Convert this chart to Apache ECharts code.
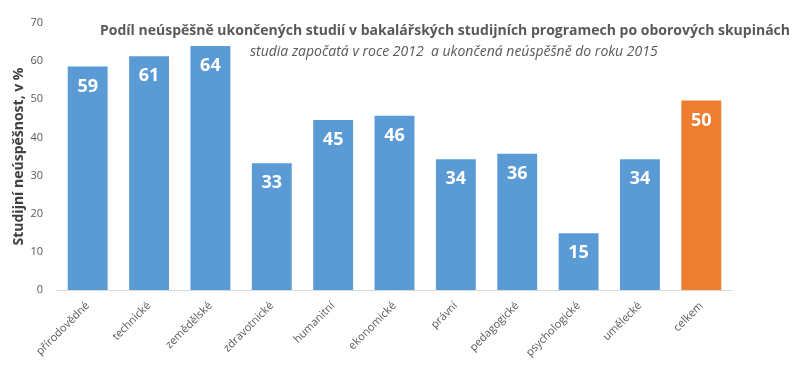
<!DOCTYPE html>
<html><head><meta charset="utf-8">
<script src="https://cdn.jsdelivr.net/npm/echarts@6/dist/echarts.min.js"></script>
<style>html,body{margin:0;padding:0;background:#fff}#c{width:800px;height:374px}</style>
</head><body><div id="c"></div>
<script>
const categories = ['přírodovědné','technické','zemědělské','zdravotnické','humanitní','ekonomické','právní','pedagogické','psychologické','umělecké','celkem'];
const values = [58.6, 61.3, 64.0, 33.2, 44.6, 45.7, 34.3, 35.7, 14.9, 34.3, 49.7];
const barColors = ['#5B9BD5','#5B9BD5','#5B9BD5','#5B9BD5','#5B9BD5','#5B9BD5','#5B9BD5','#5B9BD5','#5B9BD5','#5B9BD5','#ED7D31'];
const yTicks = [0,10,20,30,40,50,60,70];
const titleText = 'Podíl neúspěšně ukončených studií v bakalářských studijních programech po oborových skupinách';
const subtitleText = 'studia započatá v roce 2012  a ukončená neúspěšně do roku 2015';
const yName = 'Studijní neúspěšnost, v %';

const chart = echarts.init(document.getElementById('c'), null, {renderer:'canvas'});
const font = 'Open Sans';
chart.setOption({
  animation:false,
  textStyle:{fontFamily:font},
  title:[
    {text:titleText, right:5, top:19, textStyle:{fontFamily:font, fontSize:14, fontWeight:'bold', color:'#595959'}},
    {text:subtitleText, left:245, top:40, textStyle:{fontFamily:font, fontSize:14, fontStyle:'italic', fontWeight:'normal', color:'#595959'}}
  ],
  grid:{left:57, right:68, top:23, bottom:84},
  xAxis:{type:'category', data:categories,
    axisLine:{lineStyle:{color:'#D9D9D9'}}, axisTick:{show:false},
    axisLabel:{rotate:45, color:'#595959', fontSize:11, interval:0, margin:14}},
  yAxis:{type:'value', min:yTicks[0], max:yTicks[yTicks.length-1], interval:10,
    name:yName, nameLocation:'middle', nameGap:31, nameRotate:90, nameMoveOverlap:false,
    nameTextStyle:{fontFamily:font, fontSize:14, fontWeight:'bold', color:'#404040'},
    axisLine:{show:false}, axisTick:{show:false}, splitLine:{show:false},
    axisLabel:{color:'#595959', fontSize:11, margin:14}},
  series:[{type:'bar', barCategoryGap:'35%',
    data: values.map((v,i)=>({value:v, itemStyle:{color:barColors[i]}})),
    label:{show:true, position:'insideTop', distance:11, color:'#fff', fontSize:18, fontWeight:'bold',
      formatter:p=>Math.round(p.value)}
  }]
});
</script></body></html>
